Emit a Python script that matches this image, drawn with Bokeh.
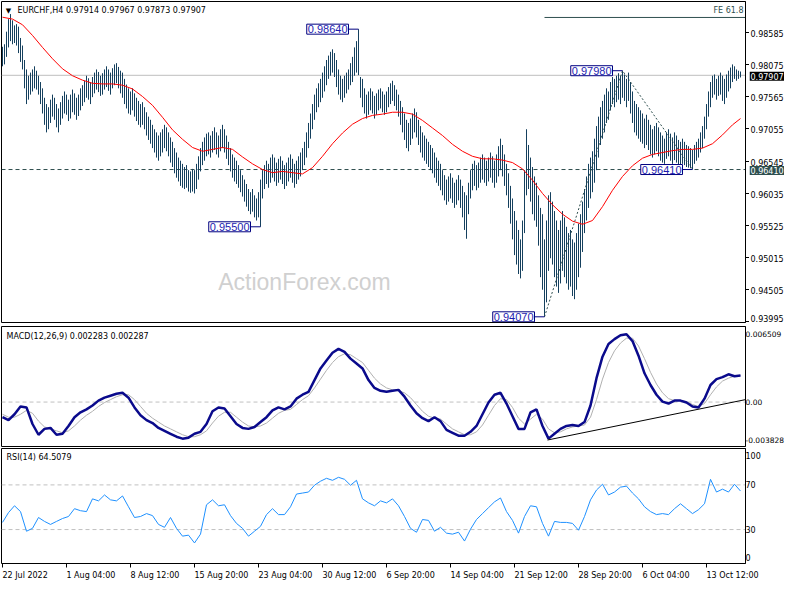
from bokeh.plotting import figure
from bokeh.layouts import column, row
from bokeh.models import (Range1d, FixedTicker, LinearAxis, Label, Span, ColumnDataSource)
from bokeh.embed import file_html
from bokeh.resources import INLINE
from bokeh.core.properties import value

# ---------------- data (prices in 1/10000 CHF) ----------------
high = [
 9836, 9840, 9860, 9880, 9888, 9878, 9870, 9872, 9868, 9850,
 9838, 9815, 9800, 9790, 9795, 9800, 9805, 9798, 9790, 9780,
 9770, 9755, 9745, 9740, 9752, 9760, 9755, 9745, 9738, 9748,
 9758, 9765, 9760, 9752, 9760, 9768, 9762, 9755, 9760, 9770,
 9775, 9782, 9790, 9786, 9780, 9788, 9795, 9800, 9796, 9790,
 9794, 9800, 9805, 9800, 9795, 9802, 9808, 9810, 9804, 9798,
 9795, 9785, 9776, 9770, 9765, 9770, 9762, 9755, 9750, 9745,
 9748, 9740, 9732, 9725, 9720, 9712, 9705, 9700, 9695, 9700,
 9705, 9712, 9708, 9700, 9692, 9685, 9675, 9668, 9660, 9655,
 9650, 9645, 9648, 9640, 9638, 9642, 9640, 9650, 9662, 9675,
 9685, 9692, 9698, 9700, 9695, 9702, 9708, 9700, 9695, 9705,
 9712, 9705, 9695, 9685, 9675, 9665, 9660, 9655, 9648, 9640,
 9632, 9625, 9618, 9610, 9605, 9610, 9600, 9595, 9605, 9625,
 9640, 9648, 9655, 9650, 9660, 9665, 9660, 9652, 9658, 9662,
 9655, 9648, 9652, 9660, 9665, 9658, 9650, 9655, 9662, 9668,
 9675, 9685, 9700, 9715, 9730, 9745, 9760, 9770, 9778, 9785,
 9795, 9805, 9815, 9822, 9828, 9832, 9826, 9815, 9800, 9790,
 9785, 9790, 9795, 9800, 9810, 9820, 9835, 9845, 9864, 9788,
 9785, 9770, 9760, 9765, 9770, 9765, 9758, 9762, 9768, 9770,
 9765, 9760, 9765, 9772, 9778, 9782, 9775, 9768, 9760, 9750,
 9740, 9730, 9720, 9715, 9722, 9730, 9738, 9732, 9720, 9710,
 9700, 9695, 9690, 9685, 9680, 9675, 9668, 9660, 9655, 9650,
 9640, 9632, 9625, 9630, 9635, 9628, 9620, 9625, 9632, 9625,
 9615, 9605, 9600, 9620, 9640, 9650, 9655, 9648, 9652, 9660,
 9665, 9660, 9655, 9660, 9668, 9662, 9655, 9665, 9678, 9690,
 9680, 9665, 9650, 9635, 9615, 9595, 9575, 9560, 9545, 9530,
 9560, 9640, 9705, 9680, 9660, 9645, 9630, 9620, 9600, 9580,
 9570, 9530, 9560, 9600, 9605, 9590, 9575, 9560, 9545, 9560,
 9575, 9565, 9550, 9540, 9545, 9530, 9525, 9540, 9555, 9570,
 9590, 9610, 9630, 9650, 9660, 9670, 9690, 9710, 9725, 9740,
 9750, 9760, 9770, 9765, 9780, 9788, 9785, 9790, 9794, 9790,
 9798, 9792, 9785, 9795, 9780, 9765, 9750, 9745, 9740, 9735,
 9730, 9722, 9728, 9720, 9712, 9705, 9710, 9715, 9708, 9700,
 9695, 9690, 9700, 9705, 9698, 9692, 9700, 9695, 9688, 9685,
 9690, 9685, 9680, 9678, 9675, 9672, 9680, 9685, 9690, 9700,
 9710, 9725, 9745, 9765, 9780, 9790, 9792, 9785, 9790, 9795,
 9790, 9785, 9792, 9798, 9803, 9808, 9805, 9800, 9798, 9796.7,
]
low = [
 9805, 9808, 9820, 9835, 9845, 9840, 9842, 9838, 9826, 9812,
 9800, 9770, 9745, 9752, 9760, 9765, 9770, 9768, 9760, 9745,
 9730, 9712, 9700, 9705, 9715, 9725, 9720, 9708, 9700, 9712,
 9722, 9730, 9728, 9718, 9722, 9732, 9728, 9720, 9726, 9735,
 9742, 9748, 9755, 9752, 9745, 9756, 9762, 9768, 9764, 9758,
 9760, 9768, 9772, 9766, 9760, 9770, 9775, 9778, 9770, 9762,
 9755, 9745, 9738, 9730, 9728, 9735, 9725, 9718, 9712, 9708,
 9712, 9705, 9695, 9688, 9682, 9675, 9668, 9660, 9655, 9662,
 9668, 9675, 9670, 9662, 9652, 9645, 9635, 9628, 9622, 9615,
 9612, 9610, 9612, 9606, 9604, 9606, 9603, 9610, 9625, 9638,
 9648, 9655, 9662, 9665, 9660, 9668, 9672, 9665, 9660, 9670,
 9675, 9668, 9658, 9648, 9638, 9628, 9622, 9618, 9612, 9605,
 9598, 9590, 9582, 9575, 9570, 9574, 9565, 9560, 9565, 9550,
 9595, 9610, 9618, 9612, 9620, 9628, 9622, 9615, 9620, 9625,
 9618, 9610, 9615, 9622, 9628, 9620, 9612, 9618, 9625, 9630,
 9640, 9648, 9660, 9675, 9690, 9705, 9720, 9732, 9740, 9748,
 9755, 9765, 9775, 9785, 9790, 9795, 9788, 9772, 9760, 9752,
 9748, 9755, 9762, 9768, 9775, 9780, 9790, 9795, 9791, 9755,
 9740, 9730, 9722, 9728, 9735, 9730, 9722, 9728, 9735, 9738,
 9732, 9728, 9732, 9740, 9745, 9750, 9742, 9735, 9725, 9712,
 9700, 9688, 9675, 9670, 9680, 9690, 9700, 9692, 9680, 9668,
 9660, 9655, 9650, 9645, 9640, 9635, 9628, 9620, 9615, 9608,
 9600, 9592, 9585, 9590, 9595, 9588, 9580, 9585, 9592, 9580,
 9565, 9545, 9531, 9570, 9595, 9608, 9615, 9608, 9612, 9620,
 9625, 9620, 9615, 9622, 9628, 9620, 9612, 9620, 9630, 9640,
 9630, 9615, 9600, 9580, 9555, 9530, 9505, 9490, 9475, 9468,
 9480, 9540, 9600, 9610, 9590, 9570, 9560, 9550, 9520, 9470,
 9450, 9407, 9430, 9480, 9500, 9490, 9470, 9455, 9445, 9460,
 9480, 9470, 9460, 9450, 9455, 9440, 9435, 9450, 9470, 9485,
 9510, 9540, 9560, 9580, 9595, 9605, 9620, 9640, 9660, 9680,
 9690, 9700, 9715, 9720, 9735, 9745, 9740, 9748, 9752, 9745,
 9755, 9750, 9740, 9750, 9730, 9715, 9700, 9695, 9690, 9685,
 9682, 9675, 9680, 9672, 9665, 9660, 9665, 9670, 9662, 9655,
 9652, 9650, 9658, 9662, 9655, 9650, 9656, 9652, 9648, 9646,
 9650, 9648, 9645, 9644, 9643, 9641, 9650, 9655, 9660, 9668,
 9675, 9690, 9705, 9725, 9740, 9755, 9760, 9752, 9758, 9760,
 9750, 9745, 9755, 9765, 9770, 9780, 9785, 9782, 9785, 9787.3,
]
# moving average (red), sampled every 5 bars + last bar
ma = [9883, 9880, 9871, 9854, 9835, 9817, 9801, 9790, 9783, 9778,
      9777, 9777, 9775, 9769, 9757, 9743, 9724, 9704, 9689, 9676,
      9670, 9673, 9676, 9673, 9661, 9650, 9641, 9636, 9638, 9636,
      9634, 9644, 9662, 9682, 9699, 9713, 9722, 9727, 9729, 9732,
      9732, 9729, 9719, 9707, 9695, 9681, 9670, 9662, 9658, 9658,
      9656, 9652, 9642, 9624, 9603, 9585, 9570, 9559, 9554, 9560,
      9582, 9608, 9630, 9647, 9659, 9665, 9668, 9671, 9673, 9673,
      9675, 9682, 9696, 9712, 9722]
ma_idx = list(range(0, 366, 5)) + [369]

# MACD main / signal, sampled every 3 bars
macd = [-0.001303, -0.001555, -0.001051, -0.000378, -0.000462, -0.001891, -0.002815, -0.002311, -0.002227, -0.002815,
        -0.002731, -0.002059, -0.001303, -0.000882, -0.000630, -0.000294, 0.000126, 0.000378, 0.000546, 0.000714,
        0.000798, 0.000378, -0.000462, -0.001135, -0.001555, -0.001807, -0.002227, -0.002479, -0.002731, -0.002983,
        -0.003152, -0.003067, -0.002731, -0.002563, -0.001891, -0.000798, -0.000462, -0.000546, -0.001219, -0.001891,
        -0.002227, -0.002311, -0.002143, -0.001723, -0.001303, -0.000714, -0.000462, -0.000630, -0.000378, 0.000294,
        0.000630, 0.000882, 0.001891, 0.002899, 0.003572, 0.004244, 0.004580, 0.004328, 0.003740, 0.003320,
        0.002899, 0.001891, 0.001219, 0.000966, 0.000882, 0.000966, 0.001051, 0.000462, -0.000294, -0.000966,
        -0.001387, -0.001639, -0.001303, -0.001639, -0.002395, -0.002647, -0.002899, -0.002899, -0.002563, -0.002059,
        -0.001051, -0.000042, 0.000630, 0.000798, -0.000126, -0.001219, -0.002311, -0.002311, -0.000882, -0.000630,
        -0.002059, -0.003152, -0.002731, -0.002311, -0.002059, -0.001975, -0.002059, -0.001723, -0.000294, 0.002059,
        0.003908, 0.005000, 0.005421, 0.005757, 0.005841, 0.005253, 0.003992, 0.002479, 0.001471, 0.000630,
        0.000042, -0.000126, 0.000126, 0.000126, -0.000042, -0.000378, -0.000462, 0.000294, 0.001471, 0.001975,
        0.002143, 0.002395, 0.002227, 0.002283]
signal = [-0.001051, -0.001303, -0.001303, -0.001051, -0.000714, -0.000966, -0.001639, -0.002143, -0.002311, -0.002479,
          -0.002647, -0.002479, -0.002059, -0.001555, -0.001135, -0.000798, -0.000378, -0.000042, 0.000210, 0.000462,
          0.000630, 0.000630, 0.000210, -0.000378, -0.000966, -0.001387, -0.001723, -0.002059, -0.002311, -0.002563,
          -0.002815, -0.002983, -0.002983, -0.002815, -0.002479, -0.001807, -0.001219, -0.000882, -0.000882, -0.001303,
          -0.001723, -0.002059, -0.002143, -0.002059, -0.001807, -0.001387, -0.000966, -0.000714, -0.000630, -0.000210,
          0.000210, 0.000546, 0.001219, 0.001975, 0.002731, 0.003404, 0.003908, 0.004160, 0.004076, 0.003740,
          0.003404, 0.002731, 0.002059, 0.001555, 0.001219, 0.001051, 0.000966, 0.000798, 0.000378, -0.000210,
          -0.000798, -0.001219, -0.001387, -0.001471, -0.001891, -0.002311, -0.002563, -0.002815, -0.002815, -0.002563,
          -0.001975, -0.001135, -0.000294, 0.000294, 0.000210, -0.000462, -0.001387, -0.001891, -0.001471, -0.001051,
          -0.001471, -0.002311, -0.002647, -0.002563, -0.002311, -0.002143, -0.002059, -0.001975, -0.001303, 0.000210,
          0.001975, 0.003404, 0.004412, 0.005085, 0.005505, 0.005505, 0.004832, 0.003740, 0.002563, 0.001555,
          0.000798, 0.000294, 0.000126, 0.000126, 0.000042, -0.000210, -0.000378, -0.000126, 0.000630, 0.001303,
          0.001807, 0.002059, 0.002227, 0.002287]
macd_trend_idx = [272.5, 371.5]
macd_trend_val = [-0.00327, 0.00021]

# RSI(14), sampled every 3 bars
rsi = [36.4, 45.2, 51.3, 46.1, 28.5, 31.1, 40.8, 37.3, 34.6, 37.3,
       39.9, 41.7, 48.7, 46.9, 46.1, 57.5, 55.7, 61.0, 56.6, 55.7,
       60.1, 50.4, 40.8, 41.7, 44.3, 42.5, 34.6, 32.0, 40.8, 31.1,
       24.1, 25.0, 18.0, 25.9, 52.2, 56.6, 51.3, 52.2, 42.5, 35.5,
       31.1, 24.1, 28.5, 32.9, 43.4, 48.7, 43.4, 43.4, 50.4, 61.8,
       62.7, 63.6, 69.7, 73.3, 75.9, 74.1, 76.8, 75.0, 69.7, 74.1,
       57.5, 53.9, 51.3, 55.7, 53.9, 57.5, 51.3, 41.7, 31.1, 27.6,
       39.0, 38.2, 28.5, 32.0, 26.8, 25.9, 27.6, 19.7, 30.3, 39.0,
       44.3, 49.6, 54.8, 58.3, 46.1, 38.2, 26.8, 41.7, 51.3, 50.4,
       35.5, 24.1, 37.3, 36.4, 36.4, 35.5, 29.4, 41.7, 56.6, 65.4,
       70.6, 61.0, 63.6, 68.0, 68.9, 62.7, 57.5, 50.4, 46.1, 43.4,
       44.3, 43.4, 48.7, 53.1, 48.7, 44.3, 47.8, 53.1, 75.0, 63.6,
       66.2, 63.6, 70.6, 64.5]

# swing labels: (bar index, price)
swing_idx = [178, 129, 271, 310, 345]
swing_price = [0.98640, 0.95500, 0.94070, 0.97980, 0.96410]
fib_idx = [271, 310, 345]
fib_price = [0.94070, 0.97980, 0.96410]
fe_level = 0.98826
last_price = 0.97907

price_ticks = [0.93995, 0.94505, 0.95015, 0.95525, 0.96035,
               0.96545, 0.97055, 0.97565, 0.98075, 0.98585]
xtick_idx = [0, 32, 64, 96, 128, 160, 192, 224, 256, 288, 320, 352]
xtick_labels = ["22 Jul 2022", "1 Aug 04:00", "8 Aug 12:00", "15 Aug 20:00",
                "23 Aug 04:00", "30 Aug 12:00", "6 Sep 20:00", "14 Sep 04:00",
                "21 Sep 12:00", "28 Sep 20:00", "6 Oct 04:00", "13 Oct 12:00"]

# ---------------- styling ----------------
FONT = "DejaVu Sans"
FS = "8px"
BAR = "#15405e"
DSG = "#2F4F4F"
FW = 744                       # 2 px per bar, bar centres on whole pixels
XR = Range1d(-0.5, 371.5)
TICK = 4
RW = 784 - 1 - FW - TICK       # price-label strip of the main pane
RB = 784 - 1 - FW              # right border of the indicator panes


def base(frame_h, top, bottom, right, yr):
    p = figure(frame_width=FW, frame_height=frame_h, min_border_left=1, min_border_right=right,
               min_border_top=top, min_border_bottom=bottom, x_range=XR, y_range=yr,
               x_axis_location=None, y_axis_location=None, toolbar_location=None,
               output_backend="svg", background_fill_color="white", border_fill_color="white")
    p.outline_line_color = "black"
    p.outline_line_width = 1
    p.grid.visible = False
    return p


def right_axis(p, ticks, overrides=None, tick_out=TICK, size=FS):
    ax = LinearAxis(ticker=FixedTicker(ticks=ticks, minor_ticks=[]))
    if overrides:
        ax.major_label_overrides = overrides
    ax.major_tick_out = tick_out
    ax.major_tick_in = 0
    ax.minor_tick_out = 0
    ax.minor_tick_in = 0
    ax.axis_line_color = "black"
    ax.major_tick_line_color = "black"
    ax.major_label_standoff = 0
    ax.major_label_text_font = FONT
    ax.major_label_text_font_size = size
    ax.major_label_text_color = "black"
    p.add_layout(ax, "right")
    return ax


# ---------------- main pane ----------------
MAIN_H, MAIN_TOP, MAIN_BOT = 321, 1, 2
main_yr = Range1d(0.939794, 0.990796)
p1 = base(MAIN_H, MAIN_TOP, MAIN_BOT, TICK, main_yr)
# tick marks of the price scale (their labels sit in the strip next to it)
right_axis(p1, price_ticks, overrides={t: "" for t in price_ticks})

p1.add_layout(Label(x=303, y=41, x_units="screen", y_units="screen", text="ActionForex.com",
                    text_align="center", text_baseline="middle", text_font="Liberation Sans",
                    text_font_size="23px", text_color="#D0D0D0", level="underlay"))
p1.add_layout(Span(location=last_price, dimension="width", line_color="#BEBEBE",
                   line_width=1, level="underlay"))
p1.add_layout(Span(location=swing_price[4], dimension="width", line_color=DSG,
                   line_width=1, line_dash="4 3", level="underlay"))

src = ColumnDataSource(dict(i=list(range(len(high))),
                            hi=[v / 10000 for v in high], lo=[v / 10000 for v in low]))
p1.segment(x0="i", y0="lo", x1="i", y1="hi", source=src, line_color=BAR, line_width=1)
p1.line(ma_idx, [v / 10000 for v in ma], line_color="red", line_width=1)

p1.line(fib_idx, fib_price, line_color=DSG, line_width=1, line_dash="2 2")
p1.segment(x0=[fib_idx[0]], y0=[fe_level], x1=[XR.end], y1=[fe_level], line_color=DSG, line_width=1)
p1.add_layout(Label(x=XR.end, y=fe_level, text="FE 61.8", text_align="right",
                    text_baseline="bottom", x_offset=-2, y_offset=2, text_font=FONT,
                    text_font_size=FS, text_color=DSG))

for xi, pr in zip(swing_idx, swing_price):
    p1.segment(x0=[xi - 5], y0=[pr], x1=[xi], y1=[pr], line_color="#000080", line_width=1)
    p1.add_layout(Label(x=xi - 5, y=pr, text=f"{pr:.5f}", text_align="right",
                        text_baseline="middle", text_font="Liberation Sans",
                        text_font_size="11px", text_color="#1c1cb0",
                        background_fill_color="white", border_line_color="#000080",
                        border_line_width=1, padding=1))

p1.add_layout(Label(x=7, y=312, x_units="screen", y_units="screen", text="\u25bc",
                    text_align="center", text_baseline="middle", text_font=FONT,
                    text_font_size="7px", text_color="black"))
p1.add_layout(Label(x=16, y=312, x_units="screen", y_units="screen",
                    text="EURCHF,H4  0.97914 0.97967 0.97873 0.97907",
                    text_align="left", text_baseline="middle", text_font=FONT,
                    text_font_size=FS, text_color="black"))

# price-label strip on the right of the main pane (same price scale)
px_per_price = MAIN_H / (main_yr.end - main_yr.start)
strip_yr = Range1d(main_yr.start - MAIN_BOT / px_per_price, main_yr.end + MAIN_TOP / px_per_price)
r1 = figure(frame_width=RW, frame_height=MAIN_H + MAIN_TOP + MAIN_BOT, min_border_left=0,
            min_border_right=0, min_border_top=0, min_border_bottom=0,
            x_range=Range1d(0, RW), y_range=strip_yr, x_axis_location=None, y_axis_location=None,
            toolbar_location=None, output_backend="svg", background_fill_color="white",
            border_fill_color="white")
r1.outline_line_color = None
r1.grid.visible = False
# the lowest label is nudged up so that it is not cut by the pane edge
lab_src = ColumnDataSource(dict(x=[1] * len(price_ticks), y=price_ticks,
                                t=[f"{t:.5f}" for t in price_ticks],
                                dy=[-4 if k == 0 else 0 for k in range(len(price_ticks))]))
r1.text(x="x", y="y", text="t", y_offset="dy", source=lab_src, text_align="left",
        text_baseline="middle", text_font=value(FONT), text_font_size=FS, text_color="black")
r1.add_layout(Label(x=0, y=last_price, x_units="screen", text=f"{last_price:.5f}",
                    text_align="left", text_baseline="middle", text_font=FONT,
                    text_font_size=FS, text_color="white", background_fill_color="black",
                    padding=1))
r1.add_layout(Label(x=0, y=swing_price[4], x_units="screen", text=f"{swing_price[4]:.5f}",
                    text_align="left", text_baseline="middle", text_font=FONT,
                    text_font_size=FS, text_color="white", background_fill_color=DSG,
                    padding=1))

# ---------------- MACD pane ----------------
p2 = base(120, 2, 1, RB, Range1d(-0.003828, 0.006509))
right_axis(p2, [-0.003299, 0.0, 0.005862],
           overrides={-0.003299: "-0.003828", 0.0: "0.00", 0.005862: "0.006509"},
           tick_out=0, size="7.5px")
p2.add_layout(Span(location=0, dimension="width", line_color="#C0C0C0", line_width=1,
                   line_dash="4 3", level="underlay"))
macd_idx = list(range(0, 3 * len(macd), 3))
sig_idx = list(range(0, 3 * len(signal), 3))
p2.line(sig_idx, signal, line_color="#B0B0B0", line_width=1)
p2.line(macd_idx, macd, line_color="#0a0a8c", line_width=2.5)
p2.line(macd_trend_idx, macd_trend_val, line_color="black", line_width=1)
p2.add_layout(Label(x=5, y=110, x_units="screen", y_units="screen",
                    text="MACD(12,26,9) 0.002283 0.002287", text_align="left",
                    text_baseline="middle", text_font=FONT, text_font_size=FS,
                    text_color="black"))

# ---------------- RSI pane ----------------
p3 = base(115, 1, 21, RB, Range1d(-0.4, 102.6))
right_axis(p3, [4.8, 30, 70, 96.3],
           overrides={4.8: "0", 30: "30", 70: "70", 96.3: "100"}, tick_out=0)
for lv in (30, 70):
    p3.add_layout(Span(location=lv, dimension="width", line_color="#C0C0C0", line_width=1,
                       line_dash="4 3", level="underlay"))
rsi_idx = list(range(0, 3 * len(rsi), 3))
p3.line(rsi_idx, rsi, line_color="#1E90FF", line_width=1)
p3.add_layout(Label(x=5, y=106, x_units="screen", y_units="screen",
                    text="RSI(14) 64.5079", text_align="left", text_baseline="middle",
                    text_font=FONT, text_font_size=FS, text_color="black"))

# x axis: tick marks at the bar, labels starting at the tick
tick_ax = LinearAxis(ticker=FixedTicker(ticks=xtick_idx, minor_ticks=[]))
tick_ax.major_tick_out = 4
tick_ax.major_tick_in = 0
tick_ax.minor_tick_out = 0
tick_ax.axis_line_color = None
tick_ax.major_tick_line_color = "black"
tick_ax.major_label_overrides = {t: "" for t in xtick_idx}
tick_ax.major_label_standoff = 0
p3.add_layout(tick_ax, "below")

CW = {c: 0.636 for c in "0123456789"}
CW.update({" ": 0.318, ":": 0.337, "J": 0.295, "u": 0.634, "l": 0.278, "A": 0.684,
           "g": 0.635, "S": 0.635, "e": 0.615, "p": 0.635, "O": 0.787, "c": 0.55, "t": 0.392})
px_per_bar = FW / (XR.end - XR.start)
lab_pos = [round(t + sum(CW.get(c, 0.6) for c in s) * 8 / 2 / px_per_bar, 3)
           for t, s in zip(xtick_idx, xtick_labels)]
lab_ax = LinearAxis(ticker=FixedTicker(ticks=lab_pos, minor_ticks=[]))
lab_ax.major_label_overrides = {pos: s for pos, s in zip(lab_pos, xtick_labels)}
lab_ax.major_tick_out = 0
lab_ax.major_tick_in = 0
lab_ax.minor_tick_out = 0
lab_ax.axis_line_color = None
lab_ax.major_label_standoff = 3
lab_ax.major_label_text_font = FONT
lab_ax.major_label_text_font_size = FS
lab_ax.major_label_text_color = "black"
p3.add_layout(lab_ax, "below")

layout = column(row(p1, r1, spacing=0), p2, p3, spacing=0)
open("out.html", "w").write(file_html(layout, INLINE))
